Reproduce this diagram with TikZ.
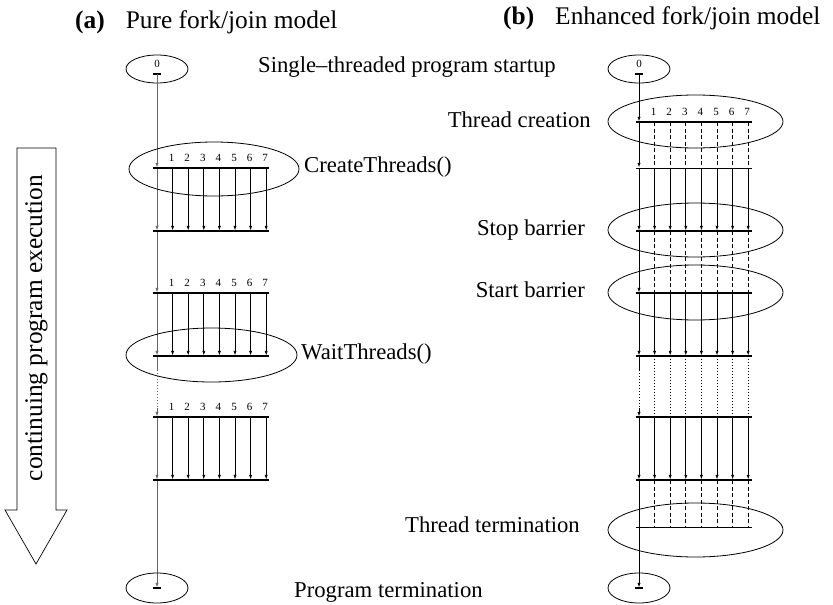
\documentclass[tikz,border=0pt]{standalone}
\usepackage{fontspec}
\setmainfont{Liberation Serif}
\usetikzlibrary{arrows.meta,shapes.geometric}
\begin{document}
\begin{tikzpicture}[x=1pt,y=-1pt,
  thr/.style={line width=0.7pt, black},
  mainL/.style={line width=0.7pt, black!60},
  arr/.style={thr, -{Latex[length=4.5pt,width=3.2pt]}, shorten >=0.6pt},
  marr/.style={mainL, -{Latex[length=4.5pt,width=3.2pt]}, shorten >=0.6pt},
  dsh/.style={thr, dash pattern=on 4pt off 2.5pt},
  dotl/.style={thr, dash pattern=on 1pt off 2pt},
  bar/.style={line width=1.5pt},
  thinbar/.style={line width=1pt},
  tick/.style={line width=1.3pt},
  ell/.style={draw, ellipse, line width=0.8pt, inner sep=0pt},
  lab/.style={font=\fontsize{22.7}{27}\selectfont, inner sep=0pt},
  head/.style={font=\fontsize{25.4}{30}\selectfont, inner sep=0pt},
  num/.style={font=\fontsize{11}{13}\selectfont, inner sep=0pt}]
\useasboundingbox (0,0) rectangle (833,605);

% ---------------- big arrow ----------------
\draw[line width=0.7pt] (17,148) -- (56,148) -- (56,510) -- (67,510) -- (36,564) -- (5,510) -- (17,510) -- cycle;
\node[head, rotate=90] (flow) at (36.5,328) {continuing program execution};

% ---------------- headings ----------------
\node[head, anchor=base west] (ha) at (75,28) {\textbf{(a)}\hspace{21pt}Pure fork/join model};
\node[head, anchor=base west] (hb) at (503,24) {\textbf{(b)}\hspace{21pt}Enhanced fork/join model};

% ---------------- left: pure fork/join ----------------
\node[ell, minimum width=62pt, minimum height=28pt] (L0e) at (157,69) {};
\node[num, anchor=base] (L0n) at (157,67) {0};
\coordinate (Ltop) at (157,74);
\draw[tick] ([xshift=-4pt]Ltop) -- ([xshift=4pt]Ltop);

\foreach \k/\y in {1/168,2/231,3/293,4/356,5/417,6/480}{
  \foreach \i in {0,...,7}{\coordinate (L\k-\i) at ({157+15.6*\i},\y);}
  \coordinate (L\k-a) at (153,\y);
  \coordinate (L\k-b) at (269,\y);
}
\foreach \k in {1,3,5}{
  \foreach \i in {1,...,7}{\node[num, anchor=base] (Ln\k-\i) at ([xshift=-1pt,yshift=7pt]L\k-\i) {\i};}
}
% main thread
\draw[marr] (Ltop) -- (L1-0);
\draw[marr] (L2-0) -- (L3-0);
\coordinate (L4d) at (157,370);
\coordinate (L5d) at (157,408);
\draw[mainL] (L4-0) -- (L4d);
\draw[mainL, dash pattern=on 1pt off 2pt] (L4d) -- (L5d);
\draw[marr] (L5d) -- (L5-0);
\coordinate (Lend) at (157,588);
\draw[marr] (L6-0) -- (Lend);
\draw[tick] ([xshift=-4pt]Lend) -- ([xshift=4pt]Lend);
% thread arrows
\foreach \a/\b in {1/2,3/4,5/6}{
  \draw[marr] (L\a-0) -- (L\b-0);
  \foreach \i in {1,...,7}{\draw[arr] (L\a-\i) -- (L\b-\i);}
}
% bars
\foreach \k in {1,...,6}{\draw[bar] (L\k-a) -- (L\k-b);}
\node[ell, minimum width=62pt, minimum height=30pt] (LEe) at (157,588) {};
% annotation ellipses
\node[ell, minimum width=170pt, minimum height=54pt] (Lc) at (214,169) {};
\node[ell, minimum width=171pt, minimum height=54pt] (Lw) at (211.5,355) {};

% ---------------- right: enhanced fork/join ----------------
\node[ell, minimum width=62pt, minimum height=28pt] (R0e) at (639,69) {};
\node[num, anchor=base] (R0n) at (639,67) {0};
\coordinate (Rtop) at (639,74);
\draw[tick] ([xshift=-4pt]Rtop) -- ([xshift=4pt]Rtop);

\foreach \k/\y in {1/122,2/168,3/231,4/293,5/356,6/417,7/480,8/527}{
  \foreach \i in {0,...,7}{\coordinate (R\k-\i) at ({639+15.6*\i},\y);}
  \coordinate (R\k-a) at (636,\y);
  \coordinate (R\k-b) at (752,\y);
}
\foreach \i in {1,...,7}{\node[num, anchor=base] (Rn1-\i) at ([xshift=-1pt,yshift=7pt]R1-\i) {\i};}
% main thread
\draw[arr] (Rtop) -- (R1-0);
\foreach \a/\b in {1/2,2/3,3/4,4/5,6/7}{\draw[arr] (R\a-0) -- (R\b-0);}
\coordinate (R5d) at (639,370);
\coordinate (R6d) at (639,408);
\draw[thr] (R5-0) -- (R5d);
\draw[dotl] (R5d) -- (R6d);
\draw[arr] (R6d) -- (R6-0);
\coordinate (Rend) at (639,588);
\draw[arr] (R7-0) -- (Rend);
\draw[tick] ([xshift=-4pt]Rend) -- ([xshift=4pt]Rend);
% threads
\foreach \i in {1,...,7}{
  \draw[dsh] (R1-\i) -- (R2-\i);
  \draw[arr] (R2-\i) -- (R3-\i);
  \draw[dsh] (R3-\i) -- (R4-\i);
  \draw[arr] (R4-\i) -- (R5-\i);
  \draw[dotl] (R5-\i) -- (R6-\i);
  \draw[arr] (R6-\i) -- (R7-\i);
  \draw[dsh] (R7-\i) -- (R8-\i);
}
% bars
\foreach \k in {1,3,4,5,6,7}{\draw[bar] (R\k-a) -- (R\k-b);}
\foreach \k in {2,8}{\draw[thinbar] (R\k-a) -- (R\k-b);}
\node[ell, minimum width=62pt, minimum height=30pt] (REe) at (639,588) {};
% annotation ellipses
\node[ell, minimum width=175pt, minimum height=53pt] (Rc) at (695.5,121.5) {};
\node[ell, minimum width=175pt, minimum height=54pt] (Rs) at (695.5,230) {};
\node[ell, minimum width=175pt, minimum height=55pt] (Rb) at (695.5,292.5) {};
\node[ell, minimum width=175pt, minimum height=54pt] (Rt) at (695.5,530) {};

% ---------------- labels ----------------
\node[lab, anchor=base west] (t1) at (258,72) {Single–threaded program startup};
\node[lab, anchor=base east] (t2) at (591,127) {Thread creation};
\node[lab, anchor=base west] (t3) at (304,172) {CreateThreads()};
\node[lab, anchor=base east] (t4) at (585,235) {Stop barrier};
\node[lab, anchor=base east] (t5) at (585,297) {Start barrier};
\node[lab, anchor=base west] (t6) at (301,359) {WaitThreads()};
\node[lab, anchor=base east] (t7) at (580,532) {Thread termination};
\node[lab, anchor=base west] (t8) at (294,597) {Program termination};
\end{tikzpicture}
\end{document}
